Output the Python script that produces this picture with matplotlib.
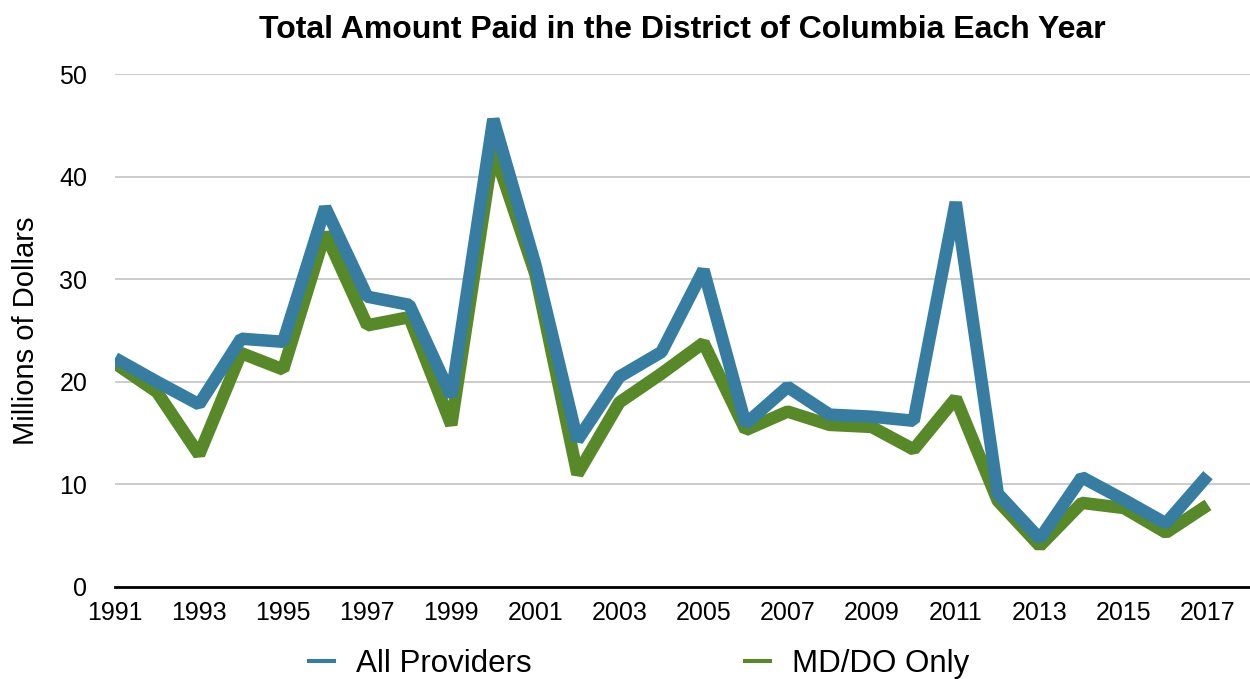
import matplotlib
matplotlib.use('Agg')
import matplotlib.pyplot as plt
from matplotlib.lines import Line2D

years = list(range(1991, 2018))
all_providers = [22.3, 20.0, 17.8, 24.2, 23.9, 37.0, 28.3, 27.5, 18.6, 45.6,
                 31.4, 14.3, 20.5, 22.9, 30.9, 15.9, 19.5, 16.8, 16.6, 16.2,
                 37.5, 9.1, 4.7, 10.7, 8.5, 6.2, 10.9]
md_do_only = [21.8, 19.0, 12.9, 22.8, 21.2, 34.5, 25.5, 26.3, 15.8, 42.7,
              30.5, 11.0, 18.0, 20.8, 23.8, 15.3, 17.1, 15.8, 15.6, 13.4,
              18.4, 8.4, 4.0, 8.2, 7.7, 5.3, 8.0]
xtick_years = list(range(1991, 2018, 2))
yticks = [0, 10, 20, 30, 40, 50]

blue = '#367da1'
green = '#588929'

plt.rcParams['font.family'] = ['Liberation Sans', 'DejaVu Sans']

fig = plt.figure(figsize=(12.5, 6.79), dpi=100)
ax = fig.add_axes([0.092, 0.1355, 0.908, 0.7555])

ax.plot(years, md_do_only, color=green, lw=9, solid_joinstyle='bevel',
        solid_capstyle='butt', zorder=3)
ax.plot(years, all_providers, color=blue, lw=9, solid_joinstyle='bevel',
        solid_capstyle='butt', zorder=4)

ax.set_xlim(1991, 2018)
ax.set_ylim(0, 50)
ax.set_xticks(xtick_years)
ax.set_yticks(yticks)
ax.tick_params(axis='both', length=0, labelsize=18)
ax.tick_params(axis='x', pad=10)
ax.tick_params(axis='y', pad=20)

ax.grid(axis='y', color='#c8c8c8', lw=1.3)
ax.set_axisbelow(True)
for s in ['top', 'right', 'left']:
    ax.spines[s].set_visible(False)
ax.spines['bottom'].set_color('black')
ax.spines['bottom'].set_linewidth(2)
ax.spines['bottom'].set_zorder(5)

ax.set_ylabel('Millions of Dollars', fontsize=21, labelpad=14)
ax.set_title('Total Amount Paid in the District of Columbia Each Year',
             fontsize=23, fontweight='bold', pad=26)

handles = [Line2D([], [], color=blue, lw=2.9),
           Line2D([], [], color=green, lw=2.9)]
ax.legend(handles, ['All Providers', 'MD/DO Only'], ncol=2, frameon=False,
          fontsize=22.5, loc='center', bbox_to_anchor=(0.4617, -0.150),
          handlelength=0.8, handletextpad=0.7, columnspacing=6.85,
          borderaxespad=0, borderpad=0)

fig.savefig('out.png', dpi=100)
